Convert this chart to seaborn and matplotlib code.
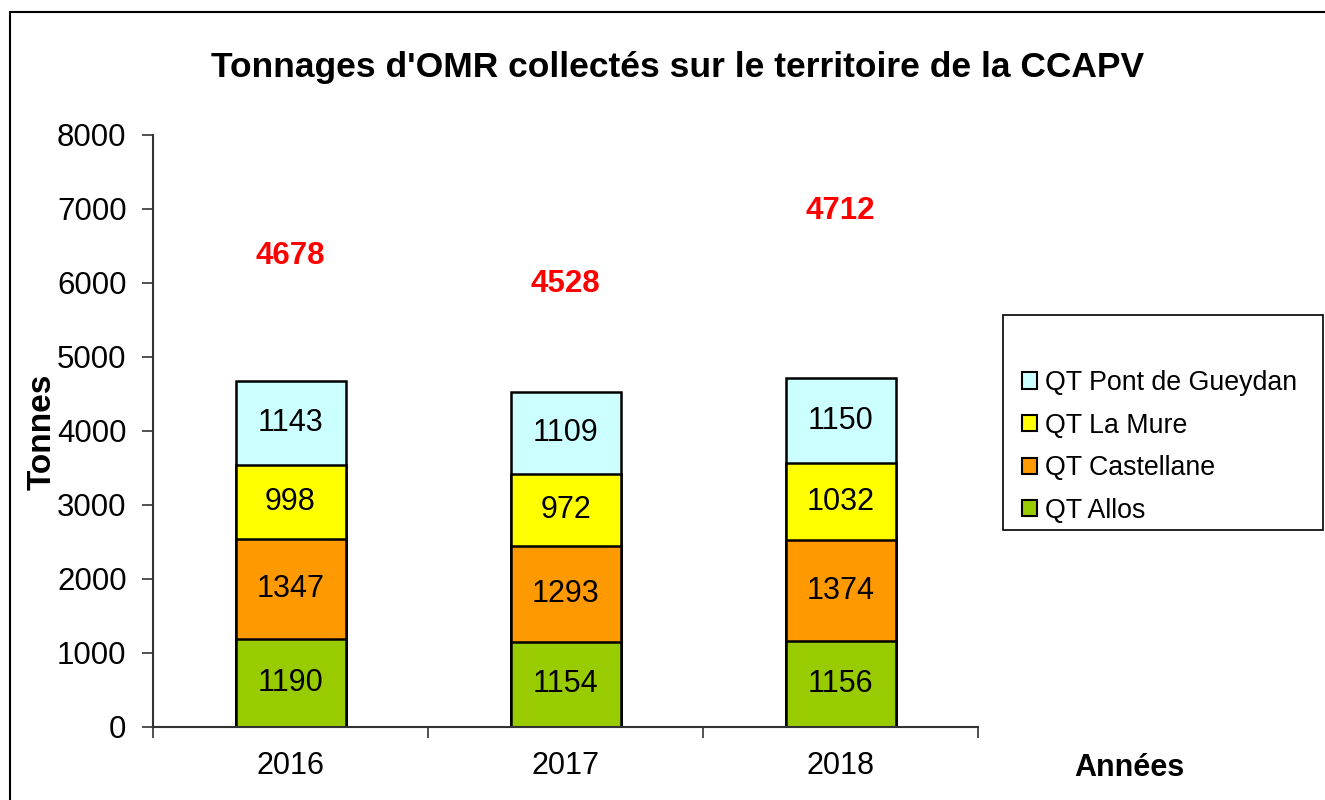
import matplotlib
matplotlib.use("Agg")
import matplotlib.pyplot as plt
from matplotlib.patches import Patch, Rectangle
from matplotlib.lines import Line2D
import seaborn as sns
import pandas as pd
import numpy as np

years = ["2016", "2017", "2018"]
allos = [1190, 1154, 1156]
castellane = [1347, 1293, 1374]
la_mure = [998, 972, 1032]
pont_gueydan = [1143, 1109, 1150]
totals = [4678, 4528, 4712]
total_label_y = [6365, 5990, 6975]

series_names = ["QT Allos", "QT Castellane", "QT La Mure", "QT Pont de Gueydan"]
series_vals = [allos, castellane, la_mure, pont_gueydan]
colors = ["#99CC00", "#FF9900", "#FFFF00", "#CCFFFF"]

sns.set_theme(style="white")
plt.rcParams['font.family'] = ['Liberation Sans', 'DejaVu Sans']
plt.rcParams['text.color'] = 'black'
plt.rcParams['xtick.color'] = 'black'
plt.rcParams['ytick.color'] = 'black'

fig = plt.figure(figsize=(13.25, 8), dpi=100)
ax = fig.add_axes([153/1325, 73/800, (978-153)/1325, (727-135)/800])

cum = np.cumsum(np.array(series_vals), axis=0)
# draw from top of stack to bottom so lower segments overlap
for i in range(len(series_names) - 1, -1, -1):
    df = pd.DataFrame({"year": years, "value": cum[i]})
    sns.barplot(data=df, x="year", y="value", color=colors[i], width=0.4,
                edgecolor="black", linewidth=1.8, saturation=1, ax=ax)

# segment labels
for i in range(len(series_names)):
    bottoms = cum[i] - np.array(series_vals[i])
    for j in range(len(years)):
        ax.text(j, bottoms[j] + series_vals[i][j] / 2, str(series_vals[i][j]),
                ha="center", va="center", fontsize=22, color="black")

for j in range(len(years)):
    ax.text(j, total_label_y[j], str(totals[j]), ha="center", va="center",
            fontsize=22.5, color="red", fontweight="bold")

ax.set_ylim(0, 8000)
ax.set_xlim(-0.5, 2.5)
ax.set_yticks(range(0, 8001, 1000))
ax.tick_params(axis="y", labelsize=22.5, length=8, width=1.2, pad=11, color="#333333",
               labelcolor="black", left=True)
ax.tick_params(axis="x", which="major", labelsize=22, length=0, pad=17, labelcolor="black")
ax.set_xticks([-0.5, 0.5, 1.5, 2.5], minor=True)
ax.tick_params(axis="x", which="minor", length=8, width=1.2, color="#333333", bottom=True)
ax.set_xlabel("")
ax.set_ylabel("")
for s in ["top", "right"]:
    ax.spines[s].set_visible(False)
for s in ["left", "bottom"]:
    ax.spines[s].set_color("#333333")
    ax.spines[s].set_linewidth(1.5)

fig.text(42/1325, 1 - 432/800, "Tonnes", rotation=90, ha="center", va="center",
         fontsize=24, fontweight="bold")
fig.text(1129/1325, 1 - 768/800, "Années", ha="center", va="center",
         fontsize=22, fontweight="bold")
fig.text(678/1325, 1 - 68/800, "Tonnages d'OMR collectés sur le territoire de la CCAPV",
         ha="center", va="center", fontsize=25.5, fontweight="bold")

# legend
handles = [Patch(facecolor=colors[i], edgecolor="black", linewidth=1.5)
           for i in range(len(series_names) - 1, -1, -1)]
labels = series_names[::-1]
leg = fig.legend(handles, labels, loc="upper left",
                 bbox_to_anchor=(1022/1325, 1 - 370/800), frameon=False,
                 fontsize=19.3, handlelength=0.55, handleheight=0.55,
                 handletextpad=0.3, labelspacing=0.62, borderaxespad=0, borderpad=0)
fig.patches.append(Rectangle((1003/1325, 1 - 530/800), (1323-1003)/1325, (530-315)/800,
                             transform=fig.transFigure, fill=False, edgecolor="black",
                             linewidth=1.2))

# figure border
fig.add_artist(Line2D([10/1325, 10/1325], [0, 1 - 12/800], transform=fig.transFigure,
                      color="black", linewidth=1.5))
fig.add_artist(Line2D([10/1325, 1], [1 - 12/800, 1 - 12/800], transform=fig.transFigure,
                      color="black", linewidth=1.5))

fig.savefig("out.png", dpi=100)
